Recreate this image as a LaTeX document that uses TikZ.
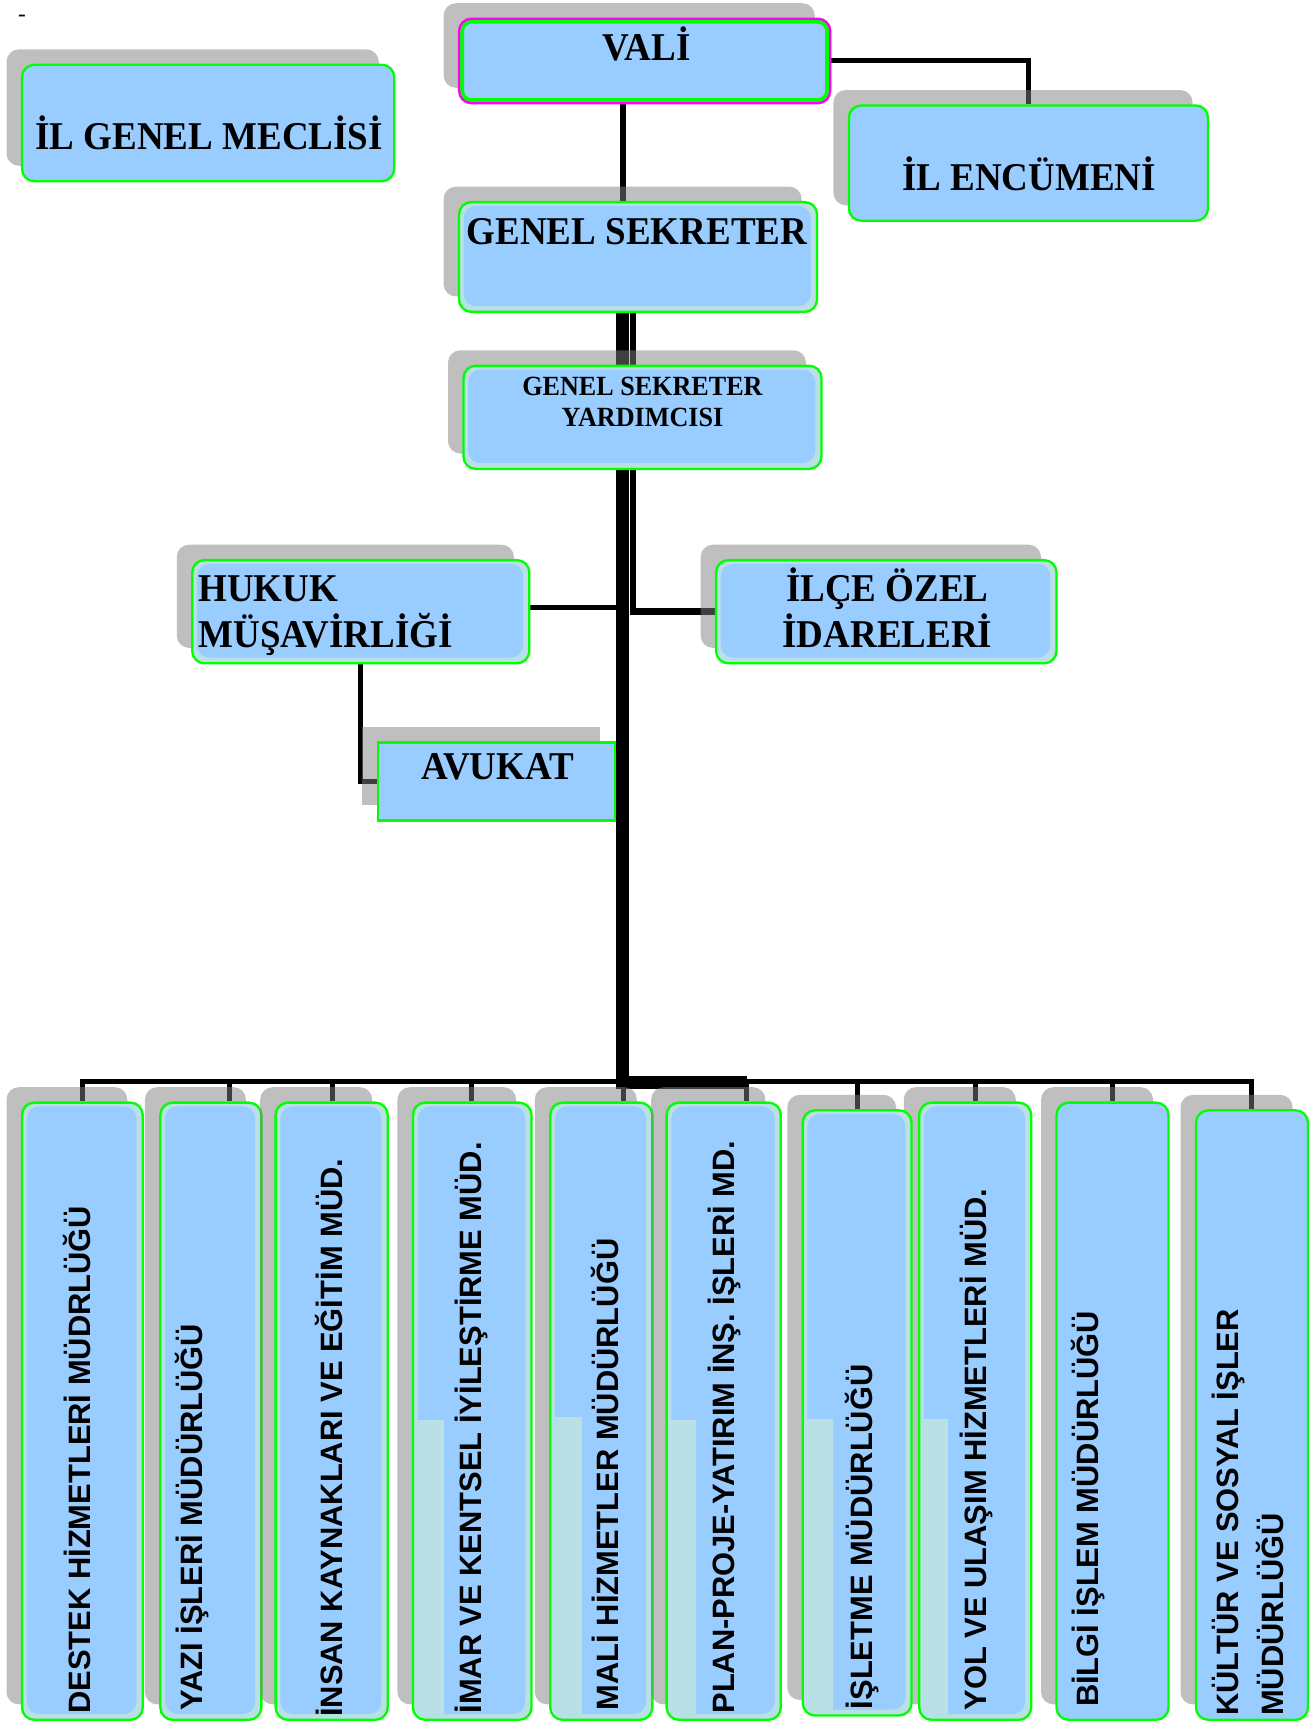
\documentclass[tikz,border=0pt]{standalone}
\usepackage{fontspec}
\setmainfont{Liberation Serif}
\newfontfamily\headfont{Liberation Serif}[FakeStretch=0.94]
\newfontfamily\unitfont{Liberation Sans}
\usepackage{tikz}
\usetikzlibrary{calc, shadows, backgrounds}

\definecolor{boxblue}{HTML}{99CCFF}
\definecolor{boxteal}{HTML}{B9E0E4}
\definecolor{edgegreen}{HTML}{00FF00}
\definecolor{edgepink}{HTML}{FF00FF}
\definecolor{shadowgray}{HTML}{808080}

\begin{document}
\begin{tikzpicture}[
    x=0.1mm, y=-0.1mm,
    unit/.style={draw=edgegreen, line width=0.6pt, fill=boxblue, rounded corners=3.2pt, inner sep=0pt,
        general shadow={fill=shadowgray, fill opacity=0.5, shadow xshift=-4pt, shadow yshift=4pt}},
    tealunit/.style={unit, fill=boxteal, path picture={
        \fill[boxblue] ([shift={(1.2pt,1.5pt)}]path picture bounding box.south west)
            rectangle ([shift={(-1.6pt,-1pt)}]path picture bounding box.north east);}},
    headtext/.style={font=\headfont\bfseries\fontsize{10.2}{12}\selectfont, inner sep=0pt},
    smalltext/.style={font=\headfont\bfseries\fontsize{7.2}{8}\selectfont, inner sep=0pt, align=center},
    unittext/.style={font=\unitfont\bfseries\fontsize{8}{11.7}\selectfont, inner sep=0pt, rotate=90, anchor=base west, align=left},
    link/.style={line width=1.3pt},
    trunk/.style={line width=3.4pt}
]
\useasboundingbox (0,0) rectangle (1198,1568);

% Top level
\node[font=\fontsize{6}{7}\selectfont, inner sep=0pt] (dash) at (20,17) {-};
\node[unit, minimum width=33.9mm, minimum height=10.6mm] (meclis) at (189.5,112) {};
\node[unit, draw=edgepink, minimum width=33.8mm, minimum height=7.7mm,
    path picture={\draw[edgegreen, line width=2.6pt] (path picture bounding box.south west) rectangle (path picture bounding box.north east);}] (vali) at (587,55.5) {};
\node[unit, minimum width=32.7mm, minimum height=10.5mm] (encumen) at (936.5,148.5) {};

% Secretary
\node[tealunit, minimum width=32.6mm, minimum height=10mm] (gensek) at (581,234) {};
\node[tealunit, minimum width=32.6mm, minimum height=9.4mm] (gsy) at (585,380) {};

% Side units
\node[tealunit, minimum width=30.7mm, minimum height=9.4mm] (hukuk) at (328.5,557) {};
\node[tealunit, minimum width=31.0mm, minimum height=9.4mm] (ilce) at (807,557) {};
\node[unit, sharp corners, minimum width=21.6mm, minimum height=7.1mm] (avukat) at (452,711.5) {};

% Directorates
\foreach \n/\cx/\w in {1/75/11.0mm, 2/192/9.2mm, 3/302/10.2mm, 4/430/10.8mm, 5/547.5/9.3mm, 6/659/10.4mm, 8/888/10.2mm}
    \node[tealunit, minimum width=\w, minimum height=56.2mm] (d\n) at (\cx,1285) {};
\node[tealunit, minimum width=9.9mm, minimum height=55.1mm] (d7) at (780.5,1286.5) {};
\node[unit, minimum width=10.2mm, minimum height=56.2mm] (d9) at (1013,1285) {};
\node[unit, minimum width=10.2mm, minimum height=55.5mm] (d10) at (1140,1288.5) {};

% highlight strips
\foreach \n/\w/\h in {4/29/274, 5/30/277, 6/28/274, 7/29/271, 8/27/275}
    \fill[boxteal] ($(d\n.south west)+(5,-\h)$) rectangle ($(d\n.south west)+(\w,-6)$);

% Labels
\node[headtext, anchor=base] (meclis-t) at (190.5,136.5) {İL GENEL MECLİSİ};
\node[headtext, anchor=base] (vali-t) at (589,55.5) {VALİ};
\node[headtext, anchor=base] (encumen-t) at (937,173.6) {İL ENCÜMENİ};
\node[headtext, anchor=base] (gensek-t) at (580,223) {GENEL SEKRETER};
\node[smalltext, anchor=base] (gsy-t) at (585,388.4) {GENEL SEKRETER\\YARDIMCISI};
\node[headtext, align=left, anchor=base west] (hukuk-t) at (180,590) {HUKUK\\MÜŞAVİRLİĞİ};
\node[headtext, align=center, anchor=base] (ilce-t) at (808,590) {İLÇE ÖZEL\\İDARELERİ};
\node[headtext, anchor=base] (avukat-t) at (453,710) {AVUKAT};

\node[unittext] (d1-t) at (82,1561) {DESTEK HİZMETLERİ MÜDRLÜĞÜ};
\node[unittext] (d2-t) at (184,1558) {YAZI İŞLERİ MÜDÜRLÜĞÜ};
\node[unittext] (d3-t) at (312,1564) {İNSAN KAYNAKLARI VE EĞİTİM MÜD.};
\node[unittext] (d4-t) at (438.6,1561) {İMAR VE KENTSEL İYİLEŞTİRME MÜD.};
\node[unittext] (d5-t) at (563,1558) {MALİ HİZMETLER MÜDÜRLÜĞÜ};
\node[unittext] (d6-t) at (669,1561) {PLAN-PROJE-YATIRIM İNŞ. İŞLERİ MD.};
\node[unittext] (d7-t) at (794.5,1557) {İŞLETME MÜDÜRLÜĞÜ};
\node[unittext] (d8-t) at (898.5,1558) {YOL VE ULAŞIM HİZMETLERİ MÜD.};
\node[unittext] (d9-t) at (1000.5,1555) {BİLGİ İŞLEM MÜDÜRLÜĞÜ};
\node[unittext] (d10-t) at (1169,1563) {KÜLTÜR VE SOSYAL İŞLER\\MÜDÜRLÜĞÜ};

% Connectors
\coordinate (spine) at (567,0);
\coordinate (rspine) at (576.5,0);
\coordinate (bus) at (0,985);
\begin{pgfonlayer}{background}
\draw[link] (vali.east) -| (encumen.north);
\draw[link, line width=1.6pt] (vali.south -| spine) -- (gensek.north -| spine);
\draw[trunk] (gensek.south -| spine) -- (gsy.north -| spine);
\draw[link, line width=1.7pt] (gensek.south -| rspine) -- (gsy.north -| rspine);
\draw[trunk] (gsy.south -| spine) |- ($(d6.north |- bus)+(21,1)$);
\draw[link, line width=1.7pt] (gsy.south -| rspine) |- (ilce.west);
\draw[link] ($(hukuk.east)+(0,-4)$) -- ($(hukuk.east -| spine)+(0,-4)$);
\draw[link] (hukuk.south) |- (avukat.west);
\draw[link] (d1.north) |- (d10.north |- bus) -- (d10.north);
\foreach \n/\dx in {2/17, 3/1, 4/-1, 5/20.5, 6/21, 7/0.5, 8/0, 9/0}
    \draw[link] ($(d\n.north)+(\dx,0)$) -- ($(d\n.north |- bus)+(\dx,0)$);
\end{pgfonlayer}

\end{tikzpicture}
\end{document}
